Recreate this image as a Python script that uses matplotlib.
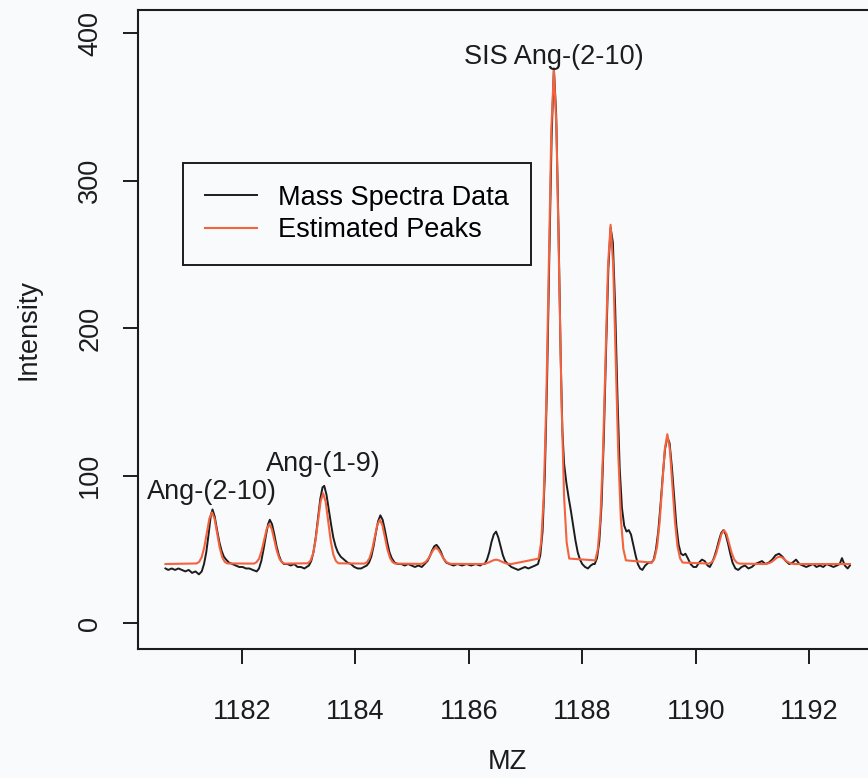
import matplotlib

matplotlib.use("Agg")

import matplotlib.pyplot as plt  # noqa: E402

mz = [
    1180.65, 1180.70, 1180.76, 1180.82, 1180.88, 1180.94, 1181.00, 1181.06, 1181.12, 1181.18,
    1181.24, 1181.29, 1181.33, 1181.37, 1181.41, 1181.45, 1181.48, 1181.52, 1181.56, 1181.60,
    1181.64, 1181.68, 1181.72, 1181.77,
    1181.83, 1181.89, 1181.95, 1182.01, 1182.07, 1182.13, 1182.19,
    1182.26, 1182.30, 1182.34, 1182.38, 1182.42, 1182.46, 1182.49, 1182.53, 1182.57, 1182.61,
    1182.65, 1182.69, 1182.74,
    1182.80, 1182.86, 1182.92, 1182.98, 1183.04, 1183.10, 1183.14,
    1183.18, 1183.22, 1183.26, 1183.30, 1183.34, 1183.38, 1183.42, 1183.45, 1183.49, 1183.53,
    1183.57, 1183.61, 1183.65, 1183.69, 1183.74, 1183.80, 1183.86,
    1183.92, 1183.98, 1184.04, 1184.10, 1184.15,
    1184.20, 1184.24, 1184.28, 1184.32, 1184.36, 1184.40, 1184.44, 1184.48, 1184.52, 1184.56,
    1184.60, 1184.64, 1184.69,
    1184.75, 1184.81, 1184.87, 1184.93, 1184.99, 1185.05, 1185.11, 1185.17,
    1185.22, 1185.27, 1185.31, 1185.35, 1185.39, 1185.43, 1185.47, 1185.51, 1185.55, 1185.60,
    1185.66, 1185.73, 1185.80, 1185.88, 1185.96, 1186.04, 1186.12, 1186.20, 1186.24,
    1186.28, 1186.32, 1186.36, 1186.40, 1186.44, 1186.48, 1186.52, 1186.56, 1186.60, 1186.64,
    1186.69, 1186.75, 1186.81, 1186.87, 1186.93, 1186.99, 1187.05, 1187.11, 1187.17,
    1187.22, 1187.26, 1187.30, 1187.34, 1187.38, 1187.42, 1187.46, 1187.50, 1187.54, 1187.58,
    1187.62, 1187.65, 1187.68, 1187.72, 1187.76, 1187.80, 1187.84, 1187.88, 1187.92, 1187.96,
    1188.00, 1188.05, 1188.10, 1188.15, 1188.19,
    1188.22, 1188.26, 1188.30, 1188.34, 1188.38, 1188.42, 1188.46, 1188.50, 1188.54, 1188.58,
    1188.62, 1188.66, 1188.70, 1188.74, 1188.78, 1188.82, 1188.86, 1188.90, 1188.94, 1188.98,
    1189.02, 1189.06, 1189.11, 1189.17, 1189.22,
    1189.26, 1189.30, 1189.34, 1189.38, 1189.42, 1189.46, 1189.50, 1189.54, 1189.58, 1189.62,
    1189.66, 1189.70, 1189.74, 1189.78, 1189.82, 1189.86, 1189.91, 1189.96, 1190.01, 1190.06,
    1190.11, 1190.16, 1190.21, 1190.25,
    1190.29, 1190.33, 1190.37, 1190.41, 1190.45, 1190.49, 1190.53, 1190.57, 1190.61, 1190.65,
    1190.70, 1190.75,
    1190.81, 1190.87, 1190.93, 1190.99, 1191.05, 1191.11, 1191.17, 1191.23, 1191.29, 1191.35,
    1191.41, 1191.47, 1191.53, 1191.59, 1191.65, 1191.71, 1191.77, 1191.83, 1191.89, 1191.95,
    1192.01, 1192.07, 1192.13, 1192.19, 1192.25, 1192.31, 1192.37, 1192.43, 1192.49, 1192.54,
    1192.58, 1192.63, 1192.68, 1192.72,
]
intensity = [
    37, 36, 37, 36, 37, 36, 35, 36, 34, 35,
    33, 35, 40, 48, 60, 73, 77, 72, 63, 55,
    49, 45, 43, 41,
    40, 39, 38, 38, 37, 37, 36,
    35, 37, 42, 50, 59, 67, 70, 67, 60, 52,
    46, 42, 40,
    40, 39, 40, 38, 38, 37, 38,
    39, 42, 48, 58, 71, 84, 92, 93, 87, 77,
    67, 58, 52, 48, 45, 43, 41,
    40, 38, 37, 37, 38,
    39, 41, 45, 52, 61, 69, 73, 70, 63, 55,
    48, 44, 41,
    40, 40, 39, 40, 39, 38, 39, 38,
    40, 42, 45, 49, 52, 53, 51, 48, 44, 41,
    40, 39, 40, 39, 40, 39, 40, 39, 40,
    40, 43, 48, 55, 60, 62, 58, 52, 46, 42,
    40, 38, 37, 36, 37, 38, 37, 38, 39,
    40, 46, 62, 100, 165, 250, 330, 376, 345, 270,
    180, 130, 108, 95, 85, 76, 66, 56, 48, 43,
    40, 38, 37, 39, 40,
    40, 44, 55, 80, 125, 185, 240, 268, 258, 215,
    155, 105, 78, 66, 62, 63, 60, 53, 46, 40,
    37, 36, 39, 41, 41,
    43, 50, 62, 80, 100, 118, 126, 122, 106, 86,
    66, 53, 47, 46, 47, 44, 40, 38, 38, 41,
    43, 42, 39, 38,
    41, 45, 50, 56, 61, 63, 60, 54, 47, 41,
    37, 36,
    38, 39, 37, 38, 40, 41, 42, 40, 41, 43,
    46, 47, 45, 42, 40, 41, 43, 40, 39, 38,
    39, 40, 38, 39, 38, 40, 39, 38, 39, 40,
    44, 39, 37, 39,
]

# estimated peak curve
fit_mz = [
    1180.65,
    1181.20, 1181.245, 1181.29, 1181.335, 1181.38, 1181.425, 1181.47, 1181.515, 1181.56, 1181.605, 1181.65, 1181.695, 1181.74,
    1182.21, 1182.255, 1182.30, 1182.345, 1182.39, 1182.435, 1182.48, 1182.525, 1182.57, 1182.615, 1182.66, 1182.705, 1182.75,
    1183.16, 1183.205, 1183.25, 1183.295, 1183.34, 1183.385, 1183.43, 1183.475, 1183.52, 1183.565, 1183.61, 1183.655, 1183.70,
    1184.16, 1184.205, 1184.25, 1184.295, 1184.34, 1184.385, 1184.43, 1184.475, 1184.52, 1184.565, 1184.61, 1184.655, 1184.70,
    1185.15, 1185.195, 1185.24, 1185.285, 1185.33, 1185.375, 1185.42, 1185.465, 1185.51, 1185.555, 1185.60, 1185.645, 1185.69,
    1186.21, 1186.255, 1186.30, 1186.345, 1186.39, 1186.435, 1186.48, 1186.525, 1186.57, 1186.615, 1186.66, 1186.705, 1186.75,
    1187.23, 1187.275, 1187.32, 1187.365, 1187.41, 1187.455, 1187.50, 1187.545, 1187.59, 1187.635, 1187.68, 1187.725, 1187.77,
    1188.23, 1188.275, 1188.32, 1188.365, 1188.41, 1188.455, 1188.50, 1188.545, 1188.59, 1188.635, 1188.68, 1188.725, 1188.77,
    1189.23, 1189.275, 1189.32, 1189.365, 1189.41, 1189.455, 1189.50, 1189.545, 1189.59, 1189.635, 1189.68, 1189.725, 1189.77,
    1190.23, 1190.275, 1190.32, 1190.365, 1190.41, 1190.455, 1190.50, 1190.545, 1190.59, 1190.635, 1190.68, 1190.725, 1190.77,
    1191.21, 1191.255, 1191.30, 1191.345, 1191.39, 1191.435, 1191.48, 1191.525, 1191.57, 1191.615, 1191.66, 1191.705, 1191.75,
    1192.72,
]
fit_intensity = [
    40,
    40.4, 41.5, 44.7, 51.4, 61.2, 70.9, 75, 70.9, 61.2, 51.4, 44.7, 41.5, 40.4,
    40.3, 41.2, 43.6, 48.8, 56.4, 63.8, 67, 63.8, 56.4, 48.8, 43.6, 41.2, 40.3,
    40.5, 42.1, 46.5, 55.6, 69.1, 82.3, 88, 82.3, 69.1, 55.6, 46.5, 42.1, 40.5,
    40.3, 41.3, 44.1, 49.8, 58.2, 66.5, 70, 66.5, 58.2, 49.8, 44.1, 41.3, 40.3,
    40.1, 40.5, 41.5, 43.6, 46.7, 49.7, 51, 49.7, 46.7, 43.6, 41.5, 40.5, 40.1,
    40, 40.1, 40.4, 41, 41.8, 42.6, 43, 42.6, 41.8, 41, 40.4, 40.1, 40,
    43.7, 54.7, 85.2, 148.9, 243.3, 335.5, 375, 335.5, 243.3, 148.9, 85.2, 54.7, 43.7,
    42.5, 50.1, 71.1, 114.8, 179.6, 242.9, 270, 242.9, 179.6, 114.8, 71.1, 50.1, 42.5,
    41.0, 43.9, 51.9, 68.6, 93.4, 117.6, 128, 117.6, 93.4, 68.6, 51.9, 43.9, 41.0,
    40.3, 41.0, 43.1, 47.5, 54.0, 60.3, 63, 60.3, 54.0, 47.5, 43.1, 41.0, 40.3,
    40, 40.2, 40.7, 41.6, 43.0, 44.4, 45, 44.4, 43.0, 41.6, 40.7, 40.2, 40,
    40,
]

peak_names = ["Ang-(2-10)", "Ang-(1-9)", "SIS Ang-(2-10)"]
peak_mz = [1181.47, 1183.43, 1187.50]

BG = "#f9fafc"
INK = "#1c1c1c"
FIT_RED = "#f4623e"

plt.rcParams["font.family"] = ["Liberation Sans", "DejaVu Sans"]
plt.rcParams["font.size"] = 19.5

fig = plt.figure(figsize=(8.68, 7.78), dpi=100, facecolor=BG)
# right edge of the box sits just past the image, as in the original crop
ax = fig.add_axes([138 / 868, 129 / 778, 738 / 868, 639 / 778], facecolor=BG)

ax.plot(mz, intensity, color=INK, lw=1.4, label="Mass Spectra Data")
ax.plot(fit_mz, fit_intensity, color=FIT_RED, lw=1.5, label="Estimated Peaks")

label_y = [89, 108, 384]
for name, x, y in zip(peak_names, peak_mz, label_y):
    ax.text(x, y, name, ha="center", va="center", color=INK)

ax.set_xlim(1180.166, 1193.18)
ax.set_ylim(-17.6, 415.6)
ax.set_xticks([1182, 1184, 1186, 1188, 1190, 1192])
ax.set_yticks([0, 100, 200, 300, 400])
ax.tick_params(axis="both", direction="out", length=11, width=1.4, colors=INK)
ax.tick_params(axis="x", pad=25)
ax.tick_params(axis="y", pad=14)
for lab in ax.get_yticklabels():
    lab.set_rotation(90)
    lab.set_va("center")
for sp in ax.spines.values():
    sp.set_linewidth(1.5)
    sp.set_color(INK)

ax.set_xlabel("MZ", color=INK, labelpad=17)
ax.set_ylabel("Intensity", color=INK, labelpad=26)

leg = ax.legend(
    loc="upper left",
    bbox_to_anchor=(0.061, 0.7606),
    borderaxespad=0,
    fancybox=False,
    frameon=True,
    edgecolor=INK,
    facecolor=BG,
    framealpha=1,
    handlelength=1.94,
    handletextpad=0.78,
    borderpad=0.8,
    labelspacing=0.25,
)
leg.get_frame().set_linewidth(1.4)

fig.savefig("out.png", dpi=100, facecolor=BG)
